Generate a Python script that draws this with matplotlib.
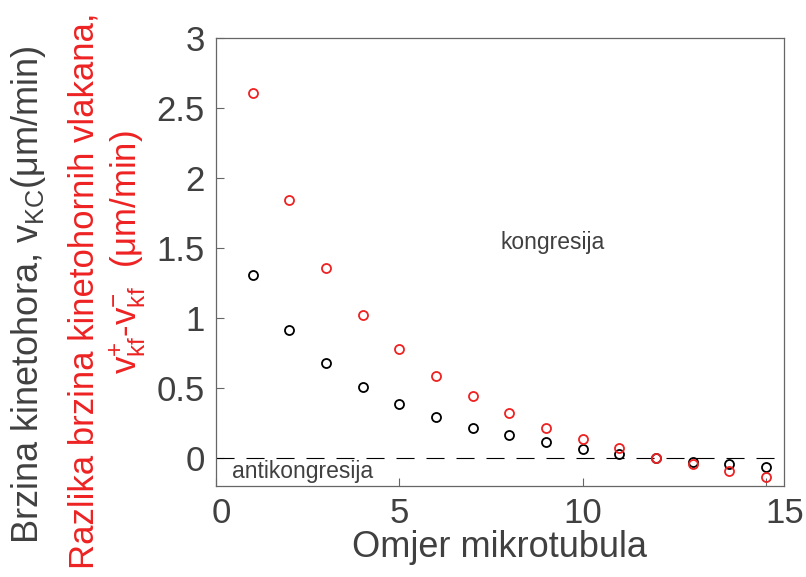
import numpy as np
import matplotlib
matplotlib.use("Agg")
from matplotlib import pyplot as plt
from matplotlib.transforms import ScaledTranslation

plt.rcParams['font.family'] = ['Liberation Sans', 'DejaVu Sans']
plt.rcParams['mathtext.fontset'] = 'custom'
plt.rcParams['mathtext.rm'] = 'Liberation Sans'
plt.rcParams['mathtext.it'] = 'Liberation Sans'
plt.rcParams['lines.scale_dashes'] = False

# omjer mikrotubula
ratio = [1, 2, 3, 4, 5, 6, 7, 8, 9, 10, 11, 12, 13, 14, 15]
# brzina kinetohora v_KC
v_kc = [1.31, 0.915, 0.675, 0.505, 0.386, 0.29, 0.214, 0.161, 0.114, 0.066,
        0.031, 0.0, -0.026, -0.043, -0.067]
# razlika brzina kinetohornih vlakana
dv_kf = [2.61, 1.845, 1.357, 1.019, 0.776, 0.588, 0.44, 0.319, 0.216, 0.133,
         0.069, 0.0, -0.043, -0.093, -0.139]
xticks = [0, 5, 10, 15]
yticks = [0, 0.5, 1, 1.5, 2, 2.5, 3]
ytick_labels = ['0', '0.5', '1', '1.5', '2', '2.5', '3']

gray = '#404040'
red = '#ee2222'

fig = plt.figure(figsize=(8.06, 5.77), dpi=100)
ax = fig.add_axes([0.268, 0.158, 0.7043, 0.7756])

ax.axhline(0, color='black', lw=0.8, dashes=(13, 8.6))
ax.plot(ratio, v_kc, 'o', mfc='none', mec='black', ms=6.5, mew=1.3)
ax.plot(ratio, dv_kf, 'o', mfc='none', mec=red, ms=6.5, mew=1.3)

ax.set_xlim(0, 15.48)
ax.set_ylim(-0.2, 3)
ax.set_xticks(xticks)
ax.set_xticklabels([str(t) for t in xticks])
ax.set_yticks(yticks)
ax.set_yticklabels(ytick_labels)
ax.tick_params(direction='in', length=6, width=0.8, colors='#666666',
               labelcolor=gray, labelsize=25, pad=8)
for s in ax.spines.values():
    s.set_color('#666666')
    s.set_linewidth(0.9)

# pomak oznaka 0 i 15 kao na originalu
labs = ax.get_xticklabels()
labs[0].set_transform(labs[0].get_transform() + ScaledTranslation(5 / 100, 0, fig.dpi_scale_trans))
labs[-1].set_transform(labs[-1].get_transform() + ScaledTranslation(19 / 100, 0, fig.dpi_scale_trans))

ax.text(7.75, 1.54, 'kongresija', fontsize=16.5, color=gray, va='center')
ax.text(0.44, -0.098, 'antikongresija', fontsize=16.5, color=gray, va='center')

ax.set_xlabel('Omjer mikrotubula', fontsize=26, color=gray, labelpad=0)

fig.text(29 / 806, 1 - 295 / 577, r'Brzina kinetohora, v$_{\mathrm{KC}}$(μm/min)',
         rotation=90, fontsize=26, color=gray, ha='center', va='center')
fig.text(84 / 806, 1 - 291 / 577, 'Razlika brzina kinetohornih vlakana,',
         rotation=90, fontsize=25, color=red, ha='center', va='center')
fig.text(128 / 806, 1 - 252 / 577,
         r'v$_{\mathrm{kf}}^{+}$-v$_{\mathrm{kf}}^{-}$  (μm/min)',
         rotation=90, fontsize=25, color=red, ha='center', va='center')

fig.savefig('out.png', dpi=100)
